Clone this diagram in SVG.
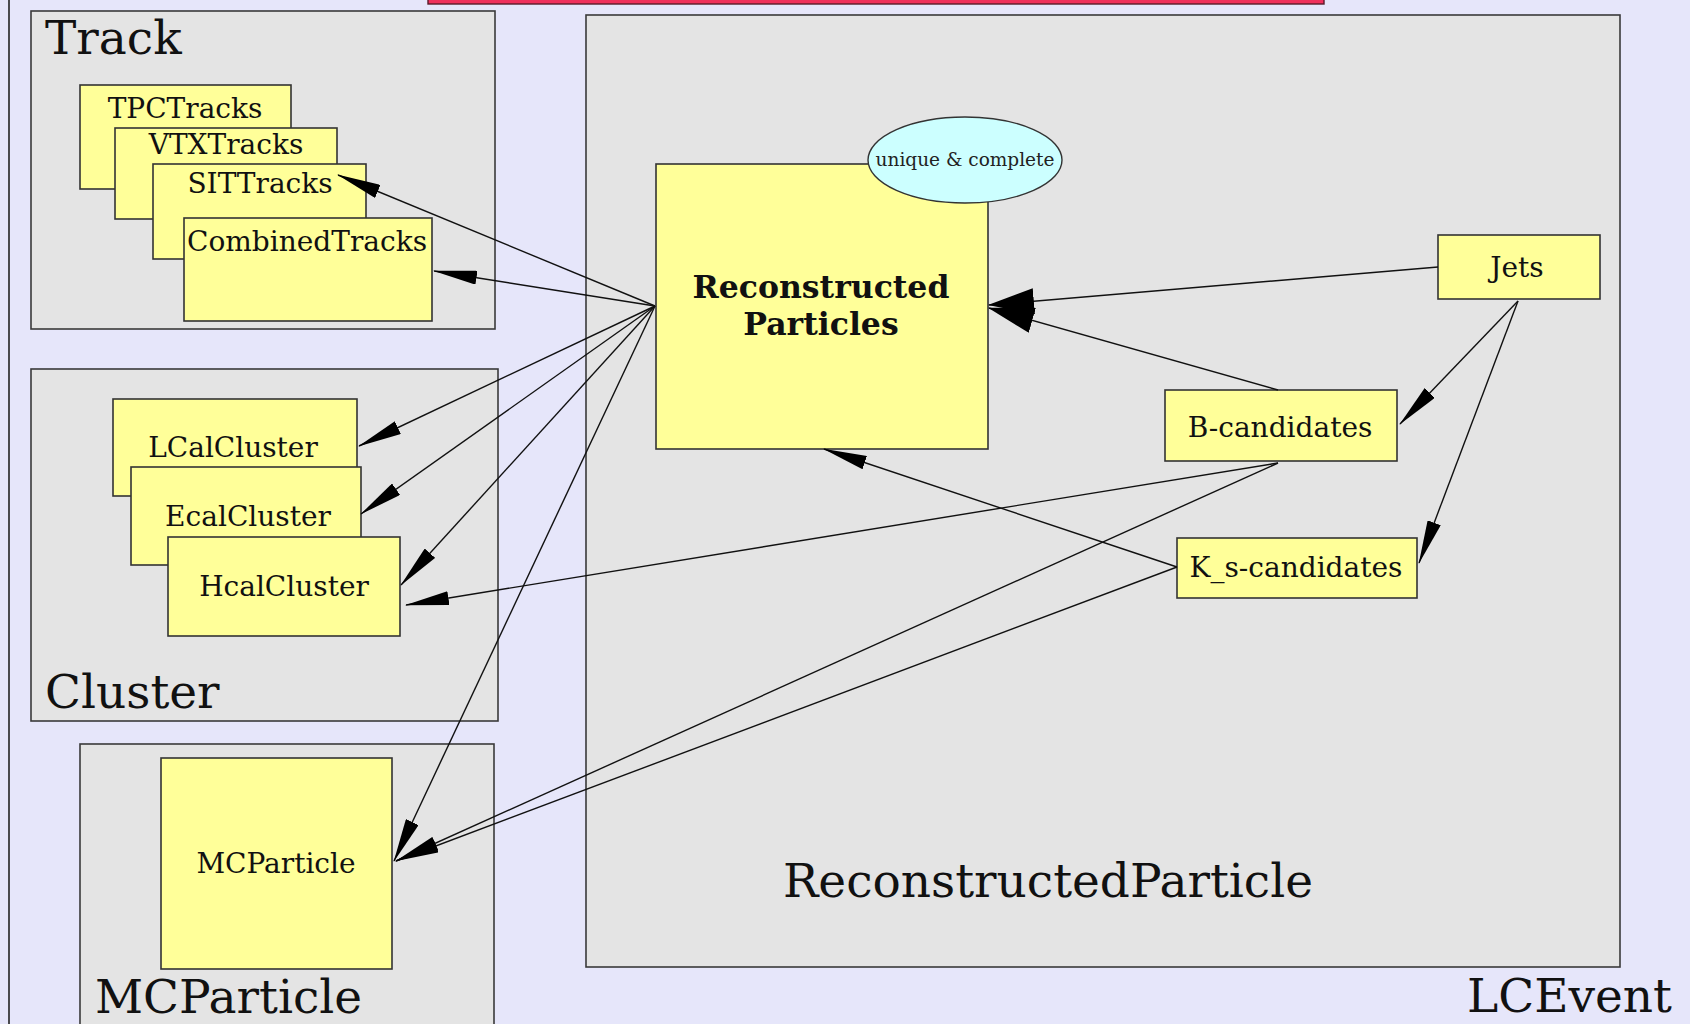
<svg xmlns="http://www.w3.org/2000/svg" width="1690" height="1024" viewBox="0 0 1690 1024">
  <defs>
    <style>
      .cluster { fill: #e4e4e4; stroke: #3a3a3a; stroke-width: 1.6; }
      .node { fill: #ffff99; stroke: #333333; stroke-width: 1.6; }
      .note { fill: #ccffff; stroke: #333333; stroke-width: 1.4; }
      .edge { fill: none; stroke: #111111; stroke-width: 1.4; }
      .ctitle { font-family: "DejaVu Serif", "Liberation Serif", serif; font-size: 47px; fill: #111111; }
      .nlabel { font-family: "DejaVu Serif", "Liberation Serif", serif; font-size: 28px; fill: #111111; text-anchor: middle; }
      .blabel { font-family: "DejaVu Serif", "Liberation Serif", serif; font-size: 31.5px; font-weight: bold; fill: #111111; text-anchor: middle; }
      .small { font-family: "DejaVu Serif", "Liberation Serif", serif; font-size: 18.5px; fill: #222222; text-anchor: middle; }
    </style>
    <marker id="arr" markerUnits="userSpaceOnUse" markerWidth="44" markerHeight="14" refX="43" refY="7" orient="auto">
      <path d="M0,0 L44,7 L0,14 Z" fill="#000000"/>
    </marker>
    <marker id="arrBig" markerUnits="userSpaceOnUse" markerWidth="46" markerHeight="26" refX="45" refY="13" orient="auto">
      <path d="M0,0 L46,13 L0,26 Z" fill="#000000"/>
    </marker>
  </defs>

  <!-- page background and outer LCEvent frame -->
  <rect x="0" y="0" width="1690" height="1024" fill="#e6e6fa"/>
  <line x1="9" y1="0" x2="9" y2="1024" stroke="#222222" stroke-width="1.6"/>
  <rect x="428" y="-4" width="896" height="8" fill="#f0305c" stroke="#5a1a2a" stroke-width="1.4"/>

  <!-- cluster frames -->
  <g id="cluster-track">
    <rect class="cluster" x="31" y="11" width="464" height="318"/>
    <text class="ctitle" x="45" y="54">Track</text>
  </g>
  <g id="cluster-cluster">
    <rect class="cluster" x="31" y="369" width="467" height="352"/>
    <text class="ctitle" x="45" y="708">Cluster</text>
  </g>
  <g id="cluster-mcparticle">
    <rect class="cluster" x="80" y="744" width="414" height="300"/>
    <text class="ctitle" x="95" y="1013">MCParticle</text>
  </g>
  <g id="cluster-reconstructedparticle">
    <rect class="cluster" x="586" y="15" width="1034" height="952"/>
    <text class="ctitle" x="1048" y="897" text-anchor="middle">ReconstructedParticle</text>
  </g>
  <text class="ctitle" x="1672" y="1012" text-anchor="end">LCEvent</text>

  <!-- track collections -->
  <g id="TPCTracks">
    <rect class="node" x="80" y="85" width="211" height="104"/>
    <text class="nlabel" x="185" y="118">TPCTracks</text>
  </g>
  <g id="VTXTracks">
    <rect class="node" x="115" y="128" width="222" height="91"/>
    <text class="nlabel" x="226" y="154">VTXTracks</text>
  </g>
  <g id="SITTracks">
    <rect class="node" x="153" y="164" width="213" height="95"/>
    <text class="nlabel" x="260" y="193">SITTracks</text>
  </g>
  <g id="CombinedTracks">
    <rect class="node" x="184" y="218" width="248" height="103"/>
    <text class="nlabel" x="307" y="251">CombinedTracks</text>
  </g>

  <!-- calorimeter clusters -->
  <g id="LCalCluster">
    <rect class="node" x="113" y="399" width="244" height="97"/>
    <text class="nlabel" x="233" y="457">LCalCluster</text>
  </g>
  <g id="EcalCluster">
    <rect class="node" x="131" y="467" width="230" height="98"/>
    <text class="nlabel" x="248" y="526">EcalCluster</text>
  </g>
  <g id="HcalCluster">
    <rect class="node" x="168" y="537" width="232" height="99"/>
    <text class="nlabel" x="284" y="596">HcalCluster</text>
  </g>

  <!-- Monte Carlo truth -->
  <g id="MCParticle">
    <rect class="node" x="161" y="758" width="231" height="211"/>
    <text class="nlabel" x="276" y="873">MCParticle</text>
  </g>

  <!-- reconstructed particle collections -->
  <g id="ReconstructedParticles">
    <rect class="node" x="656" y="164" width="332" height="285"/>
    <text class="blabel" x="821" y="298">Reconstructed</text>
    <text class="blabel" x="821" y="335">Particles</text>
  </g>
  <g id="unique-complete">
    <ellipse class="note" cx="965" cy="160" rx="97" ry="43"/>
    <text class="small" x="965" y="166">unique &amp; complete</text>
  </g>
  <g id="Jets">
    <rect class="node" x="1438" y="235" width="162" height="64"/>
    <text class="nlabel" x="1517" y="277">Jets</text>
  </g>
  <g id="B-candidates">
    <rect class="node" x="1165" y="390" width="232" height="71"/>
    <text class="nlabel" x="1280" y="437">B-candidates</text>
  </g>
  <g id="K_s-candidates">
    <rect class="node" x="1177" y="538" width="240" height="60"/>
    <text class="nlabel" x="1296" y="577">K_s-candidates</text>
  </g>

  <!-- connectors -->
  <g id="edges">
    <path class="edge" d="M655,306 L338,175" marker-end="url(#arr)"/>
    <path class="edge" d="M655,306 L434,271" marker-end="url(#arr)"/>
    <path class="edge" d="M655,306 L359,446" marker-end="url(#arr)"/>
    <path class="edge" d="M655,306 L361,514" marker-end="url(#arr)"/>
    <path class="edge" d="M655,306 L401,585" marker-end="url(#arr)"/>
    <path class="edge" d="M655,306 L394,861" marker-end="url(#arr)"/>
    <path class="edge" d="M1438,267 L989,305" marker-end="url(#arrBig)"/>
    <path class="edge" d="M1278,390 L989,308" marker-end="url(#arrBig)"/>
    <path class="edge" d="M1518,301 L1400,424" marker-end="url(#arr)"/>
    <path class="edge" d="M1518,301 L1419,563" marker-end="url(#arr)"/>
    <path class="edge" d="M1177,567 L824,449" marker-end="url(#arr)"/>
    <path class="edge" d="M1278,463 L406,605" marker-end="url(#arr)"/>
    <path class="edge" d="M1278,463 L396,861" marker-end="url(#arr)"/>
    <path class="edge" d="M1177,567 L396,861" marker-end="url(#arr)"/>
  </g>
</svg>
